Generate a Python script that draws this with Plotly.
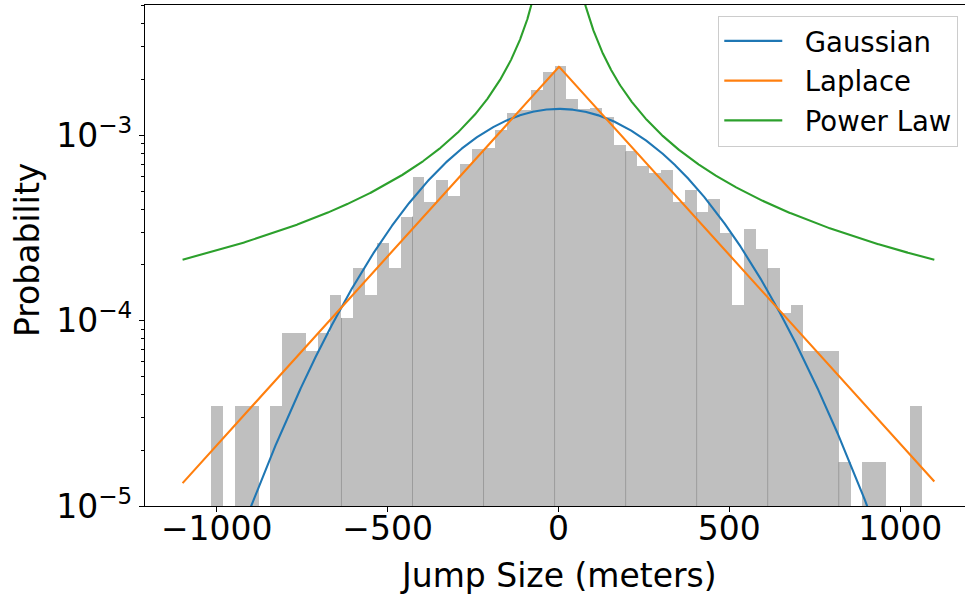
import numpy as np
import plotly.graph_objects as go

# ---------------- data ----------------
bin_start = -1016.2      # left edge of the first histogram bin (meters)
bin_width = 34.65        # histogram bin width (meters)
hist_density = [
    3.45e-5, 0, 3.45e-5, 3.45e-5, 0, 3.45e-5, 8.63e-5, 8.63e-5, 6.9e-5, 8.63e-5,
    1.38e-4, 1.035e-4, 1.92e-4, 1.38e-4, 2.61e-4, 1.92e-4, 3.65e-4, 5.93e-4, 4.35e-4, 5.72e-4,
    4.7e-4, 6.97e-4, 8.40e-4, 8.51e-4, 1.064e-3, 1.314e-3, 1.376e-3, 1.749e-3, 2.188e-3, 2.358e-3,
    1.564e-3, 1.393e-3, 1.40e-3, 1.256e-3, 8.83e-4, 8.20e-4, 6.80e-4, 6.26e-4, 6.47e-4, 4.365e-4,
    5.05e-4, 3.84e-4, 4.515e-4, 2.97e-4, 1.21e-4, 3.11e-4, 2.425e-4, 1.915e-4, 1.10e-4, 1.21e-4,
    6.9e-5, 6.9e-5, 6.9e-5, 1.725e-5, 0, 1.725e-5, 1.725e-5, 0, 0, 3.45e-5,
]

# fitted model parameters
gauss_mu, gauss_sigma = 2.0, 287.0
laplace_mu, laplace_b = 2.0, 213.0
power_c, power_alpha = 0.952, 1.2
curve_xmin, curve_xmax = -1100.0, 1100.0

series_names = ["Gaussian", "Laplace", "Power Law"]
x_tickvals = [-1000, -500, 0, 500, 1000]
x_ticktext = ["\u22121000", "\u2212500", "0", "500", "1000"]
y_tickvals = [1e-5, 1e-4, 1e-3]
y_ticktext = ["10<sup>\u22125</sup>", "10<sup>\u22124</sup>", "10<sup>\u22123</sup>"]

# ---------------- derived ----------------
n_bins = len(hist_density)
edges = bin_start + bin_width * np.arange(n_bins + 1)
centers = (edges[:-1] + edges[1:]) / 2
bar_y = [v if v > 0 else None for v in hist_density]

xc = np.linspace(curve_xmin, curve_xmax, 2000)
gauss = np.exp(-(xc - gauss_mu) ** 2 / (2 * gauss_sigma ** 2)) / (np.sqrt(2 * np.pi) * gauss_sigma)
laplace = np.exp(-np.abs(xc - laplace_mu) / laplace_b) / (2 * laplace_b)
power = power_c * np.abs(xc) ** (-power_alpha)

# faint seams where adjacent half-transparent bars overlap (every 6th edge)
seam_x, seam_y = [], []
for k in range(11, n_bins, 6):
    lo, hi = hist_density[k - 1], hist_density[k]
    if lo > 0 and hi > 0:
        seam_x += [edges[k], edges[k], None]
        seam_y += [1e-7, min(lo, hi), None]

FONT = "DejaVu Sans"
PAD = "\u00a0\u00a0"
fig = go.Figure()
fig.add_trace(go.Bar(x=centers, y=bar_y, width=bin_width,
                     marker=dict(color="rgba(128,128,128,0.5)", line=dict(width=0)),
                     showlegend=False, hoverinfo="skip"))
fig.add_trace(go.Scatter(x=seam_x, y=seam_y, mode="lines",
                         line=dict(color="rgba(128,128,128,0.55)", width=1),
                         showlegend=False, hoverinfo="skip"))
for name, yv, col in zip(series_names, [gauss, laplace, power],
                         ["#1f77b4", "#ff7f0e", "#2ca02c"]):
    fig.add_trace(go.Scatter(x=xc, y=yv, mode="lines", name=PAD + name,
                             legendgroup=name,
                             line=dict(color=col, width=2.1)))

fig.update_layout(
    width=965, height=594,
    margin=dict(l=145, r=0, t=5, b=88),
    paper_bgcolor="white", plot_bgcolor="white",
    bargap=0,
    font=dict(family=FONT, size=33, color="black"),
    showlegend=True,
    legend=dict(x=0.9918, xanchor="right", y=0.979, yanchor="top",
                bgcolor="rgba(255,255,255,0.8)", bordercolor="#cccccc", borderwidth=1,
                font=dict(family=FONT, size=27.5, color="black"),
                itemwidth=58, tracegroupgap=1, traceorder="grouped"),
    xaxis=dict(range=[-1210, 1189.8], tickvals=x_tickvals, ticktext=x_ticktext,
               showgrid=False, zeroline=False, showline=True, linecolor="black",
               linewidth=1.2, mirror=True, ticks="outside", ticklen=5, tickwidth=1.1,
               tickcolor="black", tickfont=dict(size=33), ticklabelstandoff=-12),
    yaxis=dict(type="log", range=[-5, -2.2963], tickvals=y_tickvals, ticktext=y_ticktext,
               showgrid=False, zeroline=False, showline=True, linecolor="black",
               linewidth=1.2, ticks="outside", ticklen=5, tickwidth=1.1, tickcolor="black",
               tickfont=dict(size=33),
               minor=dict(ticks="outside", ticklen=3, tickwidth=0.8, tickcolor="black",
                          dtick="D1", showgrid=False)),
    annotations=[
        dict(text="Jump Size (meters)", xref="paper", yref="paper",
             x=0.5045, y=-0.095, xanchor="center", yanchor="top", showarrow=False,
             font=dict(family=FONT, size=33, color="black")),
        dict(text="Probability", xref="paper", yref="paper",
             x=-0.117, y=0.51, xanchor="right", yanchor="middle", textangle=-90,
             showarrow=False, font=dict(family=FONT, size=33, color="black")),
    ],
)

fig.write_html("out.html")
